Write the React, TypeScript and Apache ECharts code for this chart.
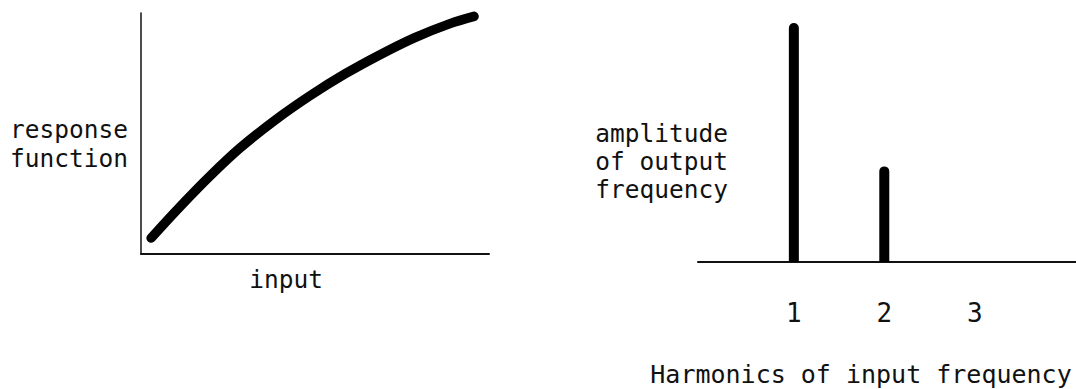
import React, { useEffect, useRef } from "react";
import * as echarts from "echarts";

// Left panel: response function vs input (arbitrary units)
const curveInput = [2.9, 11.2, 19.8, 28.4, 38.5, 48.6, 58.6, 68.7, 78.7, 88.8, 95.7];
const curveResponse = [6.6, 19.6, 32.3, 43.9, 55.5, 65.7, 74.7, 82.7, 89.8, 95.6, 98.6];

// Right panel: amplitude of output frequency per harmonic
const harmonics = [1, 2];
const amplitudes = [1.0, 0.4];
const harmonicTicks = [1, 2, 3];

const leftYLabel = "response\nfunction";
const leftXLabel = "input";
const rightYLabel = "amplitude\nof output\nfrequency";
const rightXLabel = "Harmonics of input frequency";

const FONT = "'DejaVu Sans Mono', monospace";
const INK = "#111";

export default function App() {
  const ref = useRef<HTMLDivElement>(null);

  useEffect(() => {
    if (!ref.current) return;
    const chart = echarts.init(ref.current, undefined, { renderer: "svg" });
    const hiddenAxisBits = {
      axisTick: { show: false },
      axisLabel: { show: false },
      splitLine: { show: false },
    };
    chart.setOption({
      animation: false,
      backgroundColor: "#fff",
      grid: [
        { left: 141, top: 13, width: 348, height: 241 },
        { left: 698, top: 23, width: 378, height: 239 },
      ],
      xAxis: [
        {
          gridIndex: 0,
          type: "value",
          min: 0,
          max: 100,
          axisLine: { show: true, onZero: false, lineStyle: { color: INK, width: 2 } },
          ...hiddenAxisBits,
        },
        {
          gridIndex: 1,
          type: "value",
          min: -0.06,
          max: 4.12,
          axisLine: { show: true, onZero: false, lineStyle: { color: INK, width: 2 } },
          axisTick: { show: false },
          splitLine: { show: false },
          axisLabel: {
            show: true,
            customValues: harmonicTicks,
            margin: 38,
            fontSize: 26,
            fontFamily: FONT,
            color: INK,
          },
        },
      ],
      yAxis: [
        {
          gridIndex: 0,
          type: "value",
          min: 0,
          max: 100,
          axisLine: { show: true, onZero: false, lineStyle: { color: INK, width: 1.5 } },
          ...hiddenAxisBits,
        },
        {
          gridIndex: 1,
          type: "value",
          min: 0,
          max: 1,
          show: false,
        },
      ],
      series: [
        {
          type: "line",
          xAxisIndex: 0,
          yAxisIndex: 0,
          data: curveInput.map((x, i) => [x, curveResponse[i]]),
          smooth: 0.35,
          showSymbol: false,
          lineStyle: { color: "#000", width: 9.5, cap: "round", join: "round" },
        },
        {
          type: "bar",
          xAxisIndex: 1,
          yAxisIndex: 1,
          data: harmonics.map((h, i) => [h, amplitudes[i]]),
          barWidth: 10,
          itemStyle: { color: "#000", borderRadius: [5, 5, 0, 0] },
        },
      ],
      graphic: [
        {
          type: "text",
          x: 128,
          y: 143.5,
          style: {
            text: leftYLabel,
            font: `24.5px ${FONT}`,
            fill: INK,
            align: "right",
            verticalAlign: "middle",
            lineHeight: 29,
          },
        },
        {
          type: "text",
          x: 286,
          y: 279,
          style: {
            text: leftXLabel,
            font: `24.5px ${FONT}`,
            fill: INK,
            align: "center",
            verticalAlign: "middle",
          },
        },
        {
          type: "text",
          x: 728,
          y: 161,
          style: {
            text: rightYLabel,
            font: `24.5px ${FONT}`,
            fill: INK,
            align: "right",
            verticalAlign: "middle",
            lineHeight: 28,
          },
        },
        {
          type: "text",
          x: 861,
          y: 374,
          style: {
            text: rightXLabel,
            font: `25px ${FONT}`,
            fill: INK,
            align: "center",
            verticalAlign: "middle",
          },
        },
      ],
    });
    return () => chart.dispose();
  }, []);

  return (
    <div
      ref={ref}
      style={{ position: "fixed", left: 0, top: 0, width: 1076, height: 389, background: "#fff" }}
    />
  );
}
